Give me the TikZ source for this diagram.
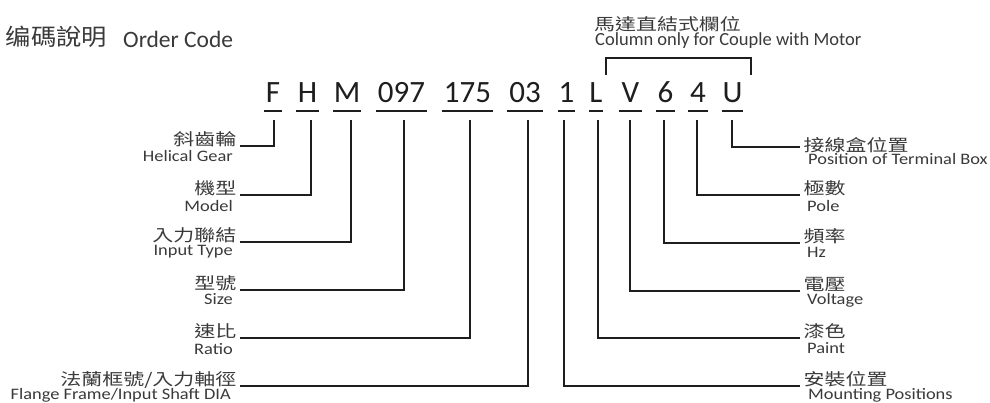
\documentclass[tikz,border=0pt]{standalone}
\usepackage{fontspec}
\setmainfont{Carlito}
\newfontfamily\cjkT[FakeStretch=1.1]{Noto Sans CJK TC}
\newfontfamily\cjkL[FakeStretch=1.27]{Noto Sans CJK TC}
\newfontfamily\enL[FakeStretch=1.15]{Carlito}
\definecolor{txt}{HTML}{3A3A3A}
\definecolor{ink}{HTML}{1E1E1E}
\begin{document}
\begin{tikzpicture}[x=1pt,y=-1pt,
  code/.style={inner xsep=0pt, inner ysep=0pt, anchor=base, font=\fontsize{31}{31}\selectfont, text=ink},
  uline/.style={line width=1.8pt, draw=ink},
  conn/.style={line width=1.4pt, draw=ink},
  lcjk/.style={inner xsep=3.5pt, inner ysep=0pt, text depth=0pt, font=\cjkL\fontsize{16.5}{16.5}\selectfont, text=txt},
  leng/.style={inner sep=0pt, font=\enL\fontsize{16}{16}\selectfont, text=txt},
]
\useasboundingbox[fill=white] (0,0) rectangle (990,403);

% titles
\node[inner sep=0pt, anchor=base west, text=txt, font=\cjkT\fontsize{23}{23}\selectfont] (t1) at (5.5,46) {编碼說明};
\node[inner sep=0pt, anchor=base west, text=txt, font=\fontsize{23.5}{23.5}\selectfont] (t2) at (123,48) {Order Code};
\node[inner sep=0pt, anchor=base west, text=txt, font=\cjkL\fontsize{16.5}{16.5}\selectfont] (m1) at (594,31) {馬達直結式欄位};
\node[inner sep=0pt, anchor=base west, text=txt, font=\fontsize{18.5}{18.5}\selectfont] (m2) at (595,46) {Column only for Couple with Motor};

% code characters
\foreach \n/\x/\w/\t in {F/273/18/F, H/307.5/23/H, M/347/28/M, A/401.5/51/097, B/467.5/51/175, C/525/36/03,
                         I/566.5/17/1, L/596/14/L, V/630.5/23/V, S/665.5/19/6, P/698/20/4, U/732.5/21/U} {
  \node[code, minimum width=\w pt] (c\n) at (\x,103) {\t};
  \draw[uline] ([yshift=-8pt]c\n.base west) -- ([yshift=-8pt]c\n.base east);
}

% bracket over motor columns
\draw[conn] (606,75) -- (606,58) -- (751,58) -- (751,75);

% connector start points
\foreach \n/\x in {F/274, H/311, M/351, A/404, B/470, C/528, I/564, L/598, V/630, S/664, P/697, U/732} {
  \coordinate (s\n) at (\x,120);
}

% left labels
\node[lcjk, anchor=south east] (lF) at (240,146) {斜齒輪};
\node[leng, anchor=base east] (eF) at (233,162) {Helical Gear};
\node[lcjk, anchor=south east] (lH) at (240,195) {機型};
\node[leng, anchor=base east] (eH) at (233,212) {Model};
\node[lcjk, anchor=south east] (lM) at (240,242) {入力聯結};
\node[leng, anchor=base east] (eM) at (233,256) {Input Type};
\node[lcjk, anchor=south east] (lA) at (240,290) {型號};
\node[leng, anchor=base east] (eA) at (233,305) {Size};
\node[lcjk, anchor=south east] (lB) at (240,338) {速比};
\node[leng, anchor=base east] (eB) at (233,354) {Ratio};
\node[lcjk, anchor=south east] (lC) at (240,386) {法蘭框號/入力軸徑};
\node[leng, anchor=base east] (eC) at (231,399) {Flange Frame/Input Shaft DIA};

% right labels
\node[lcjk, anchor=south west] (lU) at (800,152) {接線盒位置};
\node[leng, anchor=base west] (eU) at (808,165) {Position of Terminal Box};
\node[lcjk, anchor=south west] (lP) at (800,195) {極數};
\node[leng, anchor=base west] (eP) at (807,212) {Pole};
\node[lcjk, anchor=south west] (lS) at (800,243) {頻率};
\node[leng, anchor=base west] (eS) at (807,258) {Hz};
\node[lcjk, anchor=south west] (lV) at (800,291) {電壓};
\node[leng, anchor=base west] (eV) at (807,305) {Voltage};
\node[lcjk, anchor=south west] (lL) at (800,338) {漆色};
\node[leng, anchor=base west] (eL) at (807,353) {Paint};
\node[lcjk, anchor=south west] (lI) at (800,386) {安裝位置};
\node[leng, anchor=base west] (eI) at (808,399) {Mounting Positions};

% connectors
\foreach \n in {F,H,M,A,B,C} {
  \draw[conn] (s\n) |- (l\n.south east);
}
\draw[conn] (sU) |- ([yshift=5pt]lU.south west);
\foreach \n in {P,S,V,L,I} {
  \draw[conn] (s\n) |- (l\n.south west);
}
\end{tikzpicture}
\end{document}
